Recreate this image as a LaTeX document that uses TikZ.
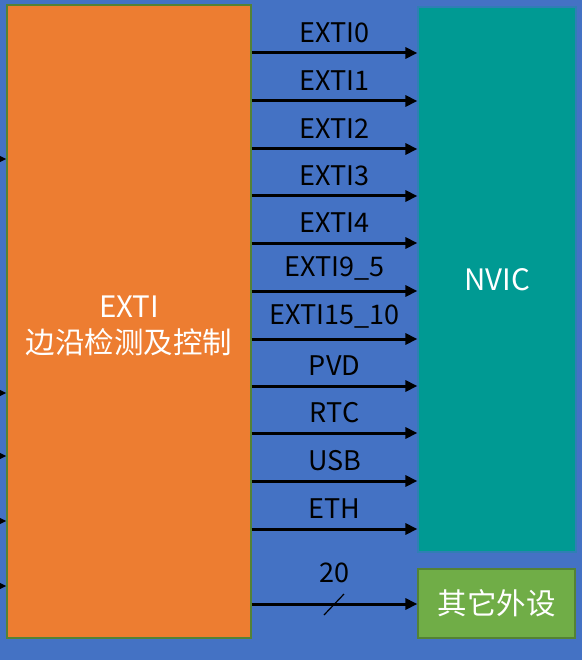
\documentclass[tikz,border=0pt]{standalone}
\usepackage{fontspec}
\setmainfont{Noto Sans CJK SC}
\usetikzlibrary{arrows.meta}
\definecolor{bgblue}{HTML}{4472C4}
\definecolor{extiorange}{HTML}{ED7D31}
\definecolor{nvicteal}{HTML}{009A93}
\definecolor{othergreen}{HTML}{70AD47}
\definecolor{edgegreen}{HTML}{548235}
\tikzset{
  box/.style={draw=edgegreen,line width=1.2pt,inner sep=0pt,text=white,align=center,font=\fontsize{29.5}{36}\selectfont},
  sig/.style={->,line width=3pt},
  siglabel/.style={inner sep=0pt,font=\fontsize{27}{30}\selectfont}
}
\begin{document}
\begin{tikzpicture}[x=1pt,y=-1pt,>={Triangle[length=12pt,width=11pt]}]
\fill [bgblue] (0,0) rectangle (582,660);
\useasboundingbox (0,0) rectangle (582,660);
\node [box,fill=extiorange,minimum width=244pt,minimum height=633pt] (exti) at (129,321.5) {\\[-6pt]EXTI\\边沿检测及控制};
\node [box,fill=nvicteal,draw=bgblue!70!nvicteal,minimum width=158pt,minimum height=545pt] (nvic) at (497,279.5) {NVIC};
\node [box,fill=othergreen,minimum width=157pt,minimum height=69pt] (other) at (496.5,603.5) {其它外设};
% inputs on the left
\foreach \y in {159,393,456,521,586}
  \draw [sig] (0,\y) -- (exti.west |- 0,\y);
% lines into the NVIC
\foreach \y/\t in {53/EXTI0,101/EXTI1,149/EXTI2,196/EXTI3,243/EXTI4,291/EXTI9\_5,339/EXTI15\_10,386/PVD,433/RTC,481/USB,529/ETH}
  \draw [sig] (exti.east |- 0,\y) -- node [siglabel,above=9pt] {\t} (nvic.west |- 0,\y);
% bus of 20 lines
\draw [sig] (exti.east |- 0,604) -- node [siglabel,above=20pt] {20} (other.west |- 0,604);
\draw [line width=1.2pt] (324,615) -- (344,594);
\end{tikzpicture}
\end{document}
